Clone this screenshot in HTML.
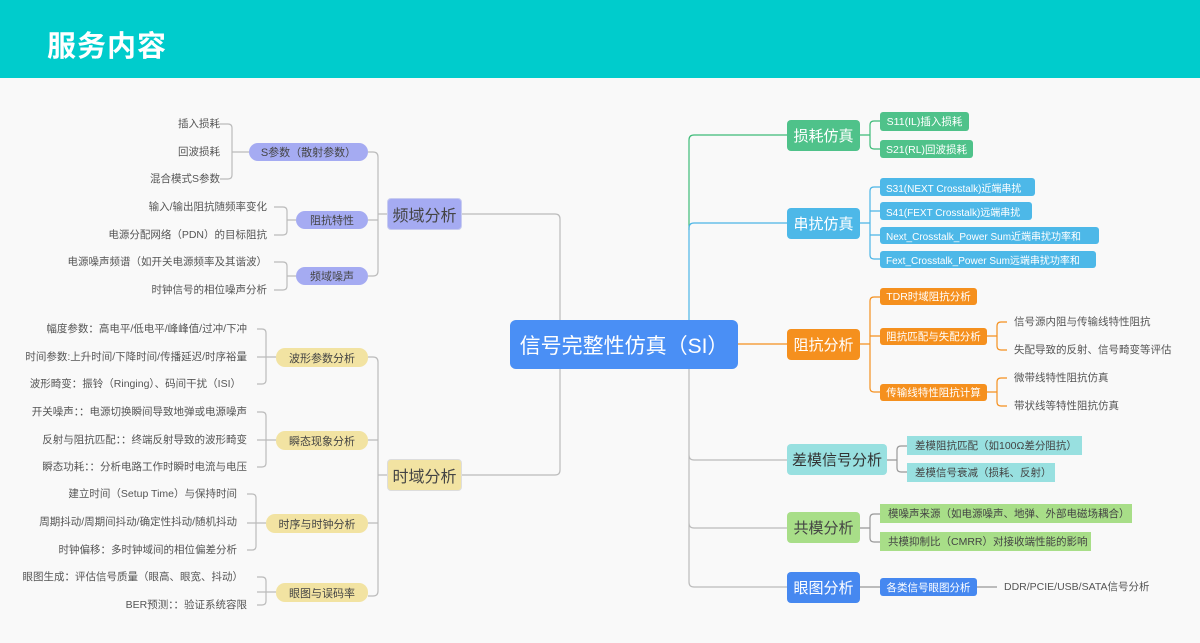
<!DOCTYPE html>
<html><head><meta charset="utf-8"><style>
*{margin:0;padding:0;box-sizing:border-box}
body{width:1200px;height:643px;background:#f9f9f9;position:relative;overflow:hidden;font-family:"Liberation Sans","Noto Sans CJK SC",sans-serif}
.hd{position:absolute;left:0;top:0;width:1200px;height:78px;background:#00cccc}
.hd span{position:absolute;left:47px;top:23px;font-size:29px;font-weight:bold;color:#fff;letter-spacing:1px}
.n{position:absolute;display:flex;align-items:center;justify-content:center;white-space:nowrap;overflow:hidden}
.l{position:absolute;font-size:10.5px;color:#555;white-space:nowrap;line-height:14px}
.lr{text-align:right}
svg{position:absolute;left:0;top:0}
</style></head><body>
<div class="hd"><span>服务内容</span></div>
<svg width="1200" height="643" fill="none" stroke-width="1.2">
<g stroke="#bbb">
<path d="M510,344 H560 M462,214 H555 Q560,214 560,219 V470 Q560,475 555,475 H462"/>
<path d="M387,214 H378 M368,152 H373 Q378,152 378,157 V271 Q378,276 373,276 H368 M368,220 H378"/>
<path d="M249,152 H232 M220,124 H228 Q232,124 232,128 V175 Q232,179 228,179 H220"/>
<path d="M296,220 H287 M274,207 H283 Q287,207 287,211 V231 Q287,235 283,235 H274"/>
<path d="M296,276 H287 M274,262 H283 Q287,262 287,266 V286 Q287,290 283,290 H274"/>
<path d="M387,475 H378 M368,357 H373 Q378,357 378,362 V591 Q378,596 373,596 H368 M368,440 H378 M368,523 H378"/>
<path d="M276,357 H257 M257,329 H262 Q266,329 266,333 V380 Q266,384 262,384 H257"/>
<path d="M276,440 H257 M257,412 H262 Q266,412 266,416 V463 Q266,467 262,467 H257"/>
<path d="M266,523 H247 M247,494 H252 Q256,494 256,498 V546 Q256,550 252,550 H247"/>
<path d="M276,592 H257 M257,577 H262 Q266,577 266,581 V601 Q266,605 262,605 H257"/>
</g>
<path stroke="#3dbb78" d="M689,230 V140 Q689,135 694,135 H787"/>
<path stroke="#4cb5e6" d="M689,330 V228 Q689,223 694,223 H787"/>
<path stroke="#f5901e" d="M738,344 H787"/>
<path stroke="#bbb" d="M689,368 V582 Q689,587 694,587 H787 M689,455 Q689,460 694,460 H787 M689,523 Q689,528 694,528 H787"/>
<path stroke="#3dbb78" d="M860,135 H870 M880,121 H874 Q870,121 870,125 V145 Q870,149 874,149 H880"/>
<path stroke="#4cb5e6" d="M860,223 H870 M880,187 H874 Q870,187 870,191 V255 Q870,259 874,259 H880 M870,211 H880 M870,235 H880"/>
<path stroke="#f5901e" d="M860,344 H870 M880,297 H874 Q870,297 870,301 V388 Q870,392 874,392 H880 M870,336 H880"/>
<path stroke="#f5901e" d="M987,336 H997 M1007,322 H1001 Q997,322 997,326 V346 Q997,350 1001,350 H1007 M987,392 H997 M1007,378 H1001 Q997,378 997,382 V402 Q997,406 1001,406 H1007"/>
<path stroke="#999" d="M887,460 H897 M907,446 H901 Q897,446 897,450 V468 Q897,472 901,472 H907"/>
<path stroke="#999" d="M860,528 H870 M880,514 H874 Q870,514 870,518 V538 Q870,542 874,542 H880"/>
<path stroke="#999" d="M860,587 H880 M977,587 H997"/>
</svg>

<div class="n" style="left:510px;top:320px;width:228px;height:49px;background:#4a8ff5;color:#fff;font-size:21px;border-radius:6px">信号完整性仿真（SI）</div>

<div class="n" style="left:387px;top:198px;width:75px;height:32px;background:#a5abf2;color:#444;font-size:16px;border-radius:4px;border:1px solid #c8ccf0">频域分析</div>
<div class="n" style="left:387px;top:459px;width:75px;height:32px;background:#f2e3a2;color:#444;font-size:16px;border-radius:4px;border:1px solid #ddd">时域分析</div>

<div class="n" style="left:249px;top:143px;width:119px;height:18px;background:#a5abf2;color:#444;font-size:11px;border-radius:9px">S参数（散射参数）</div>
<div class="n" style="left:296px;top:211px;width:72px;height:18px;background:#a5abf2;color:#444;font-size:11px;border-radius:9px">阻抗特性</div>
<div class="n" style="left:296px;top:267px;width:72px;height:18px;background:#a5abf2;color:#444;font-size:11px;border-radius:9px">频域噪声</div>

<div class="n" style="left:276px;top:348px;width:92px;height:19px;background:#f2e3a2;color:#444;font-size:11px;border-radius:9px">波形参数分析</div>
<div class="n" style="left:276px;top:431px;width:92px;height:19px;background:#f2e3a2;color:#444;font-size:11px;border-radius:9px">瞬态现象分析</div>
<div class="n" style="left:266px;top:514px;width:102px;height:19px;background:#f2e3a2;color:#444;font-size:11px;border-radius:9px">时序与时钟分析</div>
<div class="n" style="left:276px;top:583px;width:92px;height:19px;background:#f2e3a2;color:#444;font-size:11px;border-radius:9px">眼图与误码率</div>

<div class="l lr" style="right:980px;top:117px">插入损耗</div>
<div class="l lr" style="right:980px;top:145px">回波损耗</div>
<div class="l lr" style="right:980px;top:172px">混合模式S参数</div>
<div class="l lr" style="right:933px;top:200px">输入/输出阻抗随频率变化</div>
<div class="l lr" style="right:933px;top:228px">电源分配网络（PDN）的目标阻抗</div>
<div class="l lr" style="right:933px;top:255px">电源噪声频谱（如开关电源频率及其谐波）</div>
<div class="l lr" style="right:933px;top:283px">时钟信号的相位噪声分析</div>

<div class="l lr" style="right:953px;top:322px">幅度参数：高电平/低电平/峰峰值/过冲/下冲</div>
<div class="l lr" style="right:953px;top:350px">时间参数:上升时间/下降时间/传播延迟/时序裕量</div>
<div class="l lr" style="right:959px;top:377px">波形畸变：振铃（Ringing）、码间干扰（ISI）</div>
<div class="l lr" style="right:953px;top:405px">开关噪声：：电源切换瞬间导致地弹或电源噪声</div>
<div class="l lr" style="right:953px;top:433px">反射与阻抗匹配：：终端反射导致的波形畸变</div>
<div class="l lr" style="right:953px;top:460px">瞬态功耗：：分析电路工作时瞬时电流与电压</div>
<div class="l lr" style="right:963px;top:487px">建立时间（Setup Time）与保持时间</div>
<div class="l lr" style="right:963px;top:515px">周期抖动/周期间抖动/确定性抖动/随机抖动</div>
<div class="l lr" style="right:963px;top:543px">时钟偏移：多时钟域间的相位偏差分析</div>
<div class="l lr" style="right:957px;top:570px">眼图生成：评估信号质量（眼高、眼宽、抖动）</div>
<div class="l lr" style="right:953px;top:598px">BER预测：：验证系统容限</div>

<div class="n" style="left:787px;top:120px;width:73px;height:31px;background:#4fc28a;color:#fff;font-size:15px;border-radius:4px">损耗仿真</div>
<div class="n" style="left:787px;top:208px;width:73px;height:31px;background:#4db8e8;color:#fff;font-size:15px;border-radius:4px">串扰仿真</div>
<div class="n" style="left:787px;top:329px;width:73px;height:31px;background:#f5901e;color:#fff;font-size:15px;border-radius:4px">阻抗分析</div>
<div class="n" style="left:787px;top:444px;width:100px;height:31px;background:#98e0e0;color:#333;font-size:15px;border-radius:4px">差模信号分析</div>
<div class="n" style="left:787px;top:512px;width:73px;height:31px;background:#a8de88;color:#444;font-size:15px;border-radius:4px">共模分析</div>
<div class="n" style="left:787px;top:572px;width:73px;height:31px;background:#4688f0;color:#fff;font-size:15px;border-radius:4px">眼图分析</div>

<div class="n" style="left:880px;top:112px;width:89px;height:19px;background:#4fc28a;color:#fff;font-size:10.5px;border-radius:3px">S11(IL)插入损耗</div>
<div class="n" style="left:880px;top:140px;width:93px;height:18px;background:#4fc28a;color:#fff;font-size:10.5px;border-radius:3px">S21(RL)回波损耗</div>
<div class="n" style="left:880px;top:178px;width:155px;height:18px;background:#4db8e8;color:#fff;font-size:10px;border-radius:3px;justify-content:flex-start;padding-left:6px">S31(NEXT Crosstalk)近端串扰</div>
<div class="n" style="left:880px;top:202px;width:152px;height:18px;background:#4db8e8;color:#fff;font-size:10px;border-radius:3px;justify-content:flex-start;padding-left:6px">S41(FEXT Crosstalk)远端串扰</div>
<div class="n" style="left:880px;top:227px;width:219px;height:17px;background:#4db8e8;color:#fff;font-size:10px;border-radius:3px;justify-content:flex-start;padding-left:6px">Next_Crosstalk_Power Sum近端串扰功率和</div>
<div class="n" style="left:880px;top:251px;width:216px;height:17px;background:#4db8e8;color:#fff;font-size:10px;border-radius:3px;justify-content:flex-start;padding-left:6px">Fext_Crosstalk_Power Sum远端串扰功率和</div>
<div class="n" style="left:880px;top:288px;width:97px;height:17px;background:#f5901e;color:#fff;font-size:10.5px;border-radius:3px">TDR时域阻抗分析</div>
<div class="n" style="left:880px;top:328px;width:107px;height:17px;background:#f5901e;color:#fff;font-size:10.5px;border-radius:3px">阻抗匹配与失配分析</div>
<div class="n" style="left:880px;top:384px;width:107px;height:17px;background:#f5901e;color:#fff;font-size:10.5px;border-radius:3px">传输线特性阻抗计算</div>
<div class="l" style="left:1014px;top:315px">信号源内阻与传输线特性阻抗</div>
<div class="l" style="left:1014px;top:343px">失配导致的反射、信号畸变等评估</div>
<div class="l" style="left:1014px;top:371px">微带线特性阻抗仿真</div>
<div class="l" style="left:1014px;top:399px">带状线等特性阻抗仿真</div>

<div class="n" style="left:907px;top:436px;width:175px;height:19px;background:#98e0e0;color:#444;font-size:10.5px;justify-content:flex-start;padding-left:8px">差模阻抗匹配（如100Ω差分阻抗）</div>
<div class="n" style="left:907px;top:463px;width:148px;height:19px;background:#98e0e0;color:#444;font-size:10.5px;justify-content:flex-start;padding-left:8px">差模信号衰减（损耗、反射）</div>
<div class="n" style="left:880px;top:504px;width:252px;height:19px;background:#a8de88;color:#444;font-size:10.5px;justify-content:flex-start;padding-left:8px">模噪声来源（如电源噪声、地弹、外部电磁场耦合）</div>
<div class="n" style="left:880px;top:532px;width:211px;height:19px;background:#a8de88;color:#444;font-size:10.5px;justify-content:flex-start;padding-left:8px">共模抑制比（CMRR）对接收端性能的影响</div>
<div class="n" style="left:880px;top:578px;width:97px;height:18px;background:#4688f0;color:#fff;font-size:10.5px;border-radius:3px">各类信号眼图分析</div>
<div class="l" style="left:1004px;top:580px">DDR/PCIE/USB/SATA信号分析</div>
</body></html>
